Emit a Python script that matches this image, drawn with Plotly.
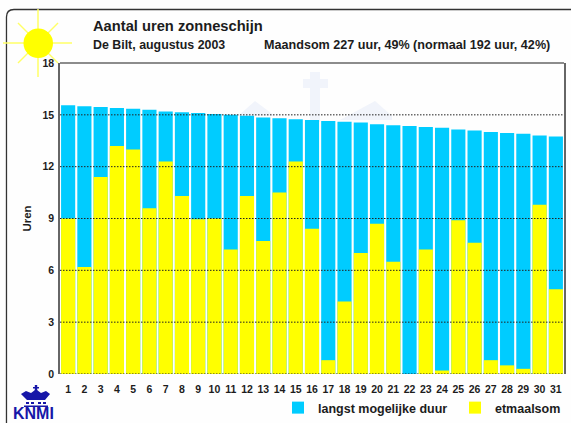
import plotly.graph_objects as go

days = list(range(1, 32))
langst = [15.55, 15.5, 15.45, 15.4, 15.35, 15.3, 15.2, 15.15, 15.1, 15.05, 15.0,
          14.95, 14.85, 14.8, 14.75, 14.7, 14.65, 14.6, 14.55, 14.45, 14.4, 14.35,
          14.3, 14.25, 14.15, 14.1, 14.0, 13.95, 13.9, 13.8, 13.75]
etmaal = [9.0, 6.2, 11.4, 13.2, 13.0, 9.6, 12.3, 10.3, 8.95, 9.0, 7.2, 10.3, 7.7,
          10.5, 12.3, 8.4, 0.8, 4.2, 7.0, 8.7, 6.5, 0.0, 7.2, 0.2, 8.9, 7.6, 0.8,
          0.5, 0.3, 9.8, 4.9]
y_ticks = [0, 3, 6, 9, 12, 15, 18]
grid_vals = [0, 3, 6, 9, 12, 15]

W, H = 571, 423
L, R, T, B = 60, 564, 63, 374
FONT = "Liberation Sans"
INK = "#1c1c1c"
BLUE = "#00ccff"
YELLOW = "#ffff00"
WATER = "#f1f4fb"
LOGO = "#1616a8"
CLEAR = "rgba(0,0,0,0)"


def fx(x):
    return (x - L) / (R - L)


def fy(y):
    return (B - y) / (B - T)


def path(points):
    return "M" + "L".join(f"{fx(x):.4f},{fy(y):.4f}" for x, y in points) + "Z"


shapes = []


def add(kind, **kw):
    shapes.append(dict(type=kind, xref="paper", yref="paper", **kw))


# frame round the whole picture (runs off right and bottom)
add("path", path=f"M{fx(6.5):.4f},{fy(430):.4f}L{fx(6.5):.4f},{fy(17):.4f}"
                 f"Q{fx(6.5):.4f},{fy(9.5):.4f} {fx(14):.4f},{fy(9.5):.4f}L{fx(575):.4f},{fy(9.5):.4f}",
    line=dict(color="#333333", width=1.3), layer="below")

# sun rays and disc
for a, b in [((3, 43), (72, 43)), ((38, 9), (38, 77)), ((18, 23), (58, 63)), ((18, 63), (58, 23))]:
    add("line", x0=fx(a[0]), y0=fy(a[1]), x1=fx(b[0]), y1=fy(b[1]),
        line=dict(color="#ffff66", width=1.5), layer="below")
add("circle", x0=fx(23.5), x1=fx(53), y0=fy(28.5), y1=fy(58), fillcolor=YELLOW,
    line=dict(width=0), layer="below")

# faint watermark behind the bars
for pts in [
    [(310, 72), (320, 72), (320, 79), (328, 79), (328, 88), (320, 88), (320, 122), (310, 122), (310, 88), (303, 88), (303, 79), (310, 79)],
    [(238, 116), (255, 101), (275, 116)],
    [(340, 120), (375, 101), (392, 116), (392, 120)],
]:
    add("path", path=path(pts), fillcolor=WATER, line=dict(width=0), layer="below")

# KNMI crown
for pts in [
    [(27, 400), (45, 400), (50, 394), (46, 391), (41, 393), (37, 390), (35, 390), (31, 393), (26, 391), (21, 394)],
    [(34.8, 385), (37.2, 385), (37.2, 391), (34.8, 391)],
    [(33, 387), (39, 387), (39, 388.5), (33, 388.5)],
    [(26, 402), (29, 402), (29, 404), (26, 404)],
    [(31, 402), (34, 402), (34, 404), (31, 404)],
    [(38, 402), (41, 402), (41, 404), (38, 404)],
    [(43, 402), (46, 402), (46, 404), (43, 404)],
    [(24, 405.5), (48, 405.5), (48, 407), (24, 407)],
]:
    add("path", path=path(pts), fillcolor=LOGO, line=dict(width=0), layer="above")

# top of the plot frame
add("line", x0=0, x1=1, y0=1, y1=1, line=dict(color="#666666", width=1.5), layer="above")

# dotted grid lines lying over the bars
for v in grid_vals:
    shapes.append(dict(type="line", xref="paper", yref="y", x0=0, x1=1, y0=v, y1=v,
                       line=dict(color="#222222", width=1, dash="1.5px,1.5px"), layer="above"))

fig = go.Figure()
fig.add_bar(x=days, y=langst, name="langst mogelijke duur", marker=dict(color=BLUE, line=dict(width=0)), width=0.87)
fig.add_bar(x=days, y=etmaal, name="etmaalsom", marker=dict(color=YELLOW, line=dict(width=0)), width=0.87)


def label(text, x, y, size, bold=True, color=INK, anchor="left"):
    return dict(text=f"<b>{text}</b>" if bold else text, x=fx(x), y=fy(y), xref="paper", yref="paper",
                xanchor=anchor, yanchor="middle", showarrow=False, font=dict(family=FONT, size=size, color=color))


fig.update_layout(
    width=W, height=H, autosize=False,
    margin=dict(l=L, r=W - R, t=T, b=H - B, pad=0, autoexpand=False),
    paper_bgcolor="#fefefe", plot_bgcolor="#fefefe",
    barmode="overlay", bargap=0.13, shapes=shapes,
    title=dict(text="<b>Aantal uren zonneschijn</b>", x=93 / W, xanchor="left", y=1 - 25.5 / H, yanchor="middle",
               font=dict(family=FONT, size=14.7, color=INK)),
    annotations=[
        label("De Bilt, augustus 2003", 91, 45, 12.4),
        label("Maandsom 227 uur, 49% (normaal 192 uur, 42%)", 262, 45, 12.6),
        label("KNMI", 11, 413, 16, color=LOGO),
    ],
    showlegend=True,
    legend=dict(orientation="h", xref="container", yref="container", x=278 / W, xanchor="left",
                y=1 - 408 / H, yanchor="middle",
                entrywidth=132, entrywidthmode="pixels", traceorder="normal", bgcolor=CLEAR,
                font=dict(family=FONT, size=12.5, weight=700, color=INK), itemclick=False, itemdoubleclick=False),
    xaxis=dict(range=[0.5, 31.5], tickmode="array", tickvals=days, ticktext=[str(d) for d in days],
               showgrid=False, showline=False, zeroline=False, ticks="outside", ticklen=5, tickcolor=CLEAR,
               tickangle=0, tickfont=dict(family=FONT, size=10.5, weight=700, color=INK)),
    yaxis=dict(range=[0, 18], tickmode="array", tickvals=y_ticks, ticktext=[str(v) for v in y_ticks],
               showgrid=False, zeroline=False, showline=True, mirror=True, linecolor="#666666", linewidth=1.5,
               ticks="outside", ticklen=2, tickcolor=CLEAR, tickfont=dict(family=FONT, size=10.5, weight=700, color=INK),
               title=dict(text="<b>Uren</b>", standoff=8, font=dict(family=FONT, size=11.5, color=INK))),
)
fig.update_xaxes(automargin=False)
fig.update_yaxes(automargin=False)
fig.write_html("out.html", config=dict(displayModeBar=False),
               post_script="document.body.style.margin='0';document.body.style.overflow='hidden';")
